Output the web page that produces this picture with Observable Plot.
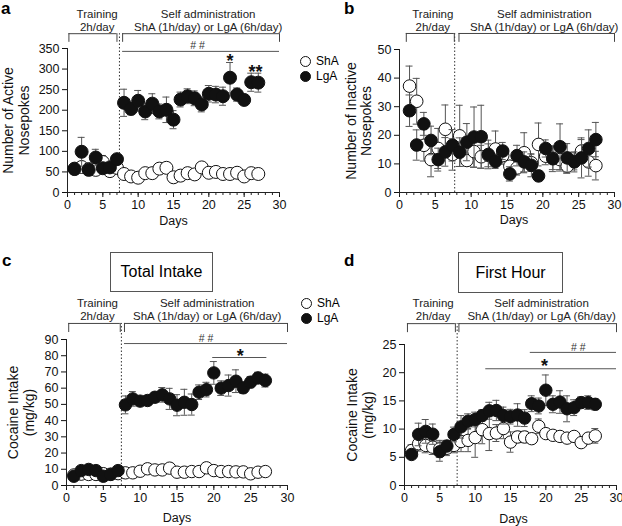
<!DOCTYPE html>
<html><head><meta charset="utf-8">
<script src="https://cdn.jsdelivr.net/npm/d3@7"></script>
<script src="https://cdn.jsdelivr.net/npm/@observablehq/plot@0.6"></script>
<style>
body{margin:0;background:#fff;}
#fig{position:relative;width:622px;height:526px;font-family:"Liberation Sans",Arial,sans-serif;color:#000;overflow:hidden;background:#fff}
.panel{position:absolute}
.letter{position:absolute;font-weight:bold;font-size:17px;line-height:1}
.box{position:absolute;border:1px solid #555;font-size:16px;display:flex;align-items:center;justify-content:center;box-sizing:border-box;background:#fff}
.leg{position:absolute;font-size:12px;line-height:1;display:flex;align-items:center}
.leg span.c{display:inline-block;width:11px;height:11px;border-radius:50%;border:1px solid #111;box-sizing:border-box;margin-right:5px}
</style></head><body><div id="fig"></div><script>
// ---------------- data ----------------
const days = [1,2,3,4,5,6,7,8,9,10,11,12,13,14,15,16,17,18,19,20,21,22,23,24,25,26,27];
const xTicks = [0,5,10,15,20,25,30];
const minorTicks = [0,1,2,3,4,5,6,7,8,9,10,11,12,13,14,15,16,17,18,19,20,21,22,23,24,25,26,27,28,29,30];
const groups = ["ShA","LgA"];
const trainingLabel = "Training\n2h/day";
const selfLabel = "Self administration\nShA (1h/day) or LgA (6h/day)";
const panelTitles = ["Total Intake","First Hour"];
const panelLetters = ["a","b","c","d"];
const yLabels = ["Number of Active\nNosepokes","Number of Inactive\nNosepokes","Cocaine Intake\n(mg/kg)","Cocaine Intake\n(mg/kg)"];
const xLabel = "Days";
const yTicksA = [0,50,100,150,200,250,300,350];
const yTicksB = [0,10,20,30,40,50];
const yTicksC = [0,10,20,30,40,50,60,70,80,90];
const yTicksD = [0,5,10,15,20,25];

// a: active nosepokes
const activeShA    = [58,62,57,55,74,52,60,45,39,36,47,47,58,60,37,41,47,44,61,48,50,45,45,48,39,47,45];
const activeShAErr = [5,8,5,6,16,8,5,4,3,3,4,4,8,6,3,3,3,3,6,3,3,3,3,3,3,3,3];
const activeLgA    = [57,99,55,85,59,61,81,218,203,223,197,216,197,201,177,226,234,229,214,240,238,234,279,238,225,268,267];
const activeLgAErr = [8,35,8,20,10,10,8,33,14,25,20,24,18,31,22,18,18,18,18,20,20,22,37,16,8,22,23];
// b: inactive nosepokes
const inactiveShA    = [37.2,31.9,16.5,11.5,15.4,22.1,13.3,19.8,11.2,14.3,12.5,13.0,15.2,12.9,9.2,8.6,13.9,10.4,16.8,12.7,12.0,11.5,9.2,10.9,14.5,10.7,9.4];
const inactiveShAErr = [7,8,5.5,6,7,8.5,5.5,10.7,2,5.5,4,4,6.3,3,2,2.5,7,3,7.5,3,4,4,2.5,3,4,5,5];
const inactiveLgA    = [28.6,16.6,24.0,18.2,11.5,14.2,16.5,14.1,17.6,19.4,19.5,13.3,10.9,14.5,6.5,12.9,10.7,9.5,5.8,15.4,11.8,16.0,12.1,10.7,12.1,15.4,18.5];
const inactiveLgAErr = [5.5,5.3,4,5,4,5,5.5,5,6.5,10.5,11,5,2.5,3,2.5,3.6,3.5,4,0.6,3,4.5,8,5,3.5,7,6.5,6];
// c: total intake
const totalShA    = [6.5,7,6.8,6.8,7.3,7,7.3,7.8,7.8,8.8,10.3,9.6,9.6,10.7,8.2,8.2,8.6,8.6,10.9,9.2,8.6,8.6,8.4,8.4,7.2,8.2,8.6];
const totalShAErr = [1,1,1,1,1,1,1,1,1,1,1,1,1,1,1,1,1,1,1,1,1,1,1,1,1,1,1];
const totalLgA    = [5.7,9.2,9.9,9.2,5.7,6.8,9.2,49.7,53.4,52.0,52.4,54.4,55.9,53.4,49.5,51.3,49.9,57.5,59.1,69.4,60.0,61.6,64.3,60.2,63.7,66.3,64.7];
const totalLgAErr = [1,1.5,1.5,1.5,1,1,1.5,5.5,4.5,3,3,3,4.5,6.5,6.5,8,6.5,4.5,4.5,7,4.5,6.5,7,3.5,3.5,3.5,4];
// d: first hour
const firstShA    = [6.2,7.4,7.1,6.8,6.5,6.6,7.1,7.8,8.0,8.5,9.9,9.2,9.3,10.1,7.7,8.6,8.6,8.3,10.5,9.2,8.9,8.7,8.4,8.7,7.6,8.4,8.8];
const firstShAErr = [1,1.3,1.3,1.3,1.5,1.3,1.3,1.8,2,3.5,2.5,3,1.5,1.8,1.8,1,1,0.8,1.3,0.8,0.5,0.5,0.5,0.6,0.8,0.8,1.3];
const firstLgA    = [5.5,9.05,9.6,9.1,6.0,7.0,9.05,10.4,11.4,11.7,12.4,13.25,13.3,12.4,12.2,12.5,11.95,14.5,14.1,16.9,14.4,14.8,13.6,13.8,14.7,14.7,14.4];
const firstLgAErr = [0.7,2,2.1,1.8,1.7,1,1.3,2,1.3,1.3,1,1.5,1.8,1.5,1.3,2,1.5,1.4,1.4,2.7,1.5,2,2.3,1.4,1,1.2,1];
// day offset at which the inactive-nosepoke points are drawn
const inactiveDayOffset = 0.4;

// ---------------- drawing ----------------
const FONT = '"Liberation Sans", Arial, sans-serif';
const ERR = "#555";

function makePanel(cfg) {
  const rows = days.map((d, i) => ({
    day: d + cfg.xOffset, shA: cfg.shA[i], shAErr: cfg.shAErr[i], lgA: cfg.lgA[i], lgAErr: cfg.lgAErr[i]
  }));
  const errMarks = (v, e) => [
    Plot.ruleX(rows, {x: "day", y1: d => d[v] - d[e], y2: d => d[v] + d[e], stroke: ERR, strokeWidth: 1}),
    Plot.ruleY(rows, {y: d => d[v] + d[e], x1: "day", x2: "day", insetLeft: -3.5, insetRight: -3.5, stroke: ERR}),
    Plot.ruleY(rows, {y: d => d[v] - d[e], x1: "day", x2: "day", insetLeft: -3.5, insetRight: -3.5, stroke: ERR})
  ];
  const ends = cfg.brackets.flatMap(b => [b[0], b[1]]);
  const bracketRows = cfg.brackets.map(b => ({x1: b[0], x2: b[1]}));
  const marks = [
    Plot.ruleY([0], {x1: 0, x2: 30, stroke: "#222"}),
    Plot.ruleX([0], {y1: 0, y2: cfg.yTicks[cfg.yTicks.length - 1], stroke: "#222"}),
    Plot.ruleX(minorTicks, {x: d => d, y1: 0, y2: 0, insetBottom: -3, stroke: "#222"}),
    Plot.ruleX([cfg.split], {y1: 0, y2: cfg.bTop, stroke: "#333", strokeDasharray: "1.5,2"}),
    Plot.ruleY(bracketRows, {x1: "x1", x2: "x2", y: cfg.bTop, stroke: "#444"}),
    Plot.ruleX(ends, {x: d => d, y1: cfg.bBottom, y2: cfg.bTop, stroke: "#444"}),
    Plot.text([trainingLabel, selfLabel], {x: (d, i) => cfg.textX[i], y: cfg.textY, text: d => d,
      fontSize: 11.5, lineHeight: 1.13, lineAnchor: "middle", fill: "#222"}),
    Plot.ruleY(cfg.sigLines, {x1: "x1", x2: "x2", y: "y", stroke: "#555"}),
    Plot.text(cfg.hashes, {x: "x", y: "y", text: "t", fontSize: 10.5, fill: "#333"}),
    Plot.text(cfg.stars, {x: "x", y: "y", text: "t", fontSize: 18, fontWeight: "bold"}),
    ...errMarks("shA", "shAErr"),
    Plot.dot(rows, {x: "day", y: "shA", r: cfg.r, fill: "white", stroke: "#111", strokeWidth: 1}),
    ...errMarks("lgA", "lgAErr"),
    Plot.dot(rows, {x: "day", y: "lgA", r: cfg.r, fill: "#111", stroke: "#111", strokeWidth: 1}),
    Plot.text([cfg.yLabel], {frameAnchor: "left", dx: cfg.yLabelDx, rotate: -90, text: d => d,
      fontSize: 14, lineHeight: 1.1, textAnchor: "middle", lineAnchor: "middle"}),
    Plot.text([xLabel], {frameAnchor: "bottom", dy: cfg.daysDy, dx: cfg.daysDx, text: d => d,
      fontSize: 12.5, lineAnchor: "middle"})
  ];
  const plot = Plot.plot({
    width: cfg.width, height: cfg.height,
    marginTop: cfg.m[0], marginRight: cfg.m[1], marginBottom: cfg.m[2], marginLeft: cfg.m[3],
    style: {background: "transparent", fontFamily: FONT, fontSize: "12.5px", color: "#111", overflow: "visible"},
    x: {domain: [0, 30], ticks: xTicks, tickSize: 5, tickPadding: 3, label: null},
    y: {domain: [0, cfg.yTicks[cfg.yTicks.length - 1]], ticks: cfg.yTicks, tickSize: 5, tickPadding: 3, label: null},
    marks
  });
  plot.classList.add("panel");
  plot.style.left = cfg.left + "px";
  plot.style.top = cfg.top + "px";
  plot.style.position = "absolute";
  return plot;
}

const fig = document.getElementById("fig");

const cfgs = [
  {left: 0, top: 0, width: 311, height: 240, m: [48, 32, 48, 67], yTicks: yTicksA,
   shA: activeShA, shAErr: activeShAErr, lgA: activeLgA, lgAErr: activeLgAErr, xOffset: 0, r: 6.5,
   yLabel: yLabels[0], yLabelDx: -51.5, daysDy: 28, daysDx: 0,
   split: 7.35, bTop: 386, bBottom: 365, textY: 419, textX: [4.2, 19.9], brackets: [[0.2, 7.0], [7.8, 30]],
   sigLines: [{x1: 7.8, x2: 30, y: 343}], hashes: [{x: 18.4, y: 356, t: "# #"}],
   stars: [{x: 23, y: 318, t: "*"}, {x: 26.6, y: 292, t: "**"}]},
  {left: 311, top: 0, width: 311, height: 240, m: [49, 8, 48, 88], yTicks: yTicksB,
   shA: inactiveShA, shAErr: inactiveShAErr, lgA: inactiveLgA, lgAErr: inactiveLgAErr, xOffset: inactiveDayOffset, r: 6.3,
   yLabel: yLabels[1], yLabelDx: -41, daysDy: 27, daysDx: 7,
   split: 7.7, bTop: 55.6, bBottom: 52.5, textY: 60.1, textX: [4.65, 20.2], brackets: [[0.95, 7.65], [8.3, 30]],
   sigLines: [], hashes: [], stars: []},
  {left: 0, top: 245, width: 311, height: 281, m: [94, 24, 41, 66], yTicks: yTicksC,
   shA: totalShA, shAErr: totalShAErr, lgA: totalLgA, lgAErr: totalLgAErr, xOffset: 0, r: 6.2,
   yLabel: yLabels[2], yLabelDx: -45.5, daysDy: 32, daysDx: 0,
   split: 7.45, bTop: 99.9, bBottom: 94.3, textY: 108.5, textX: [4.2, 19.1], brackets: [[0.3, 7.3], [7.87, 30]],
   sigLines: [{x1: 7.87, x2: 30, y: 87.5}, {x1: 19.85, x2: 27.2, y: 78.9}],
   hashes: [{x: 18.95, y: 90.6, t: "# #"}], stars: [{x: 23.6, y: 79.6, t: "*"}]},
  {left: 311, top: 245, width: 311, height: 281, m: [99, 6, 41, 93], yTicks: yTicksD,
   shA: firstShA, shAErr: firstShAErr, lgA: firstLgA, lgAErr: firstLgAErr, xOffset: 0, r: 6.2,
   yLabel: yLabels[3], yLabelDx: -44.5, daysDy: 33, daysDx: 3,
   split: 7.45, bTop: 28.7, bBottom: 27.1, textY: 31.2, textX: [4.05, 19.4], brackets: [[0.42, 7.2], [7.7, 30]],
   sigLines: [{x1: 17.8, x2: 30, y: 23.6}, {x1: 11.5, x2: 30, y: 20.7}],
   hashes: [{x: 24.6, y: 24.5, t: "# #"}], stars: [{x: 19.8, y: 21.2, t: "*"}]}
];

cfgs.forEach(c => fig.appendChild(makePanel(c)));

[[1, 0], [344, 0], [2, 252], [344, 252]].forEach((p, i) => {
  const el = document.createElement("div");
  el.className = "letter"; el.textContent = panelLetters[i];
  el.style.left = p[0] + "px"; el.style.top = p[1] + "px";
  fig.appendChild(el);
});
[[110, 252, 103, 40], [458, 252, 105, 41]].forEach((b, i) => {
  const el = document.createElement("div");
  el.className = "box"; el.textContent = panelTitles[i];
  el.style.left = b[0] + "px"; el.style.top = b[1] + "px";
  el.style.width = b[2] + "px"; el.style.height = b[3] + "px";
  fig.appendChild(el);
});
[[300, 55], [301, 297]].forEach(p => {
  groups.forEach((g, i) => {
    const el = document.createElement("div");
    el.className = "leg";
    el.style.left = p[0] + "px"; el.style.top = (p[1] + i * 15) + "px";
    const c = document.createElement("span");
    c.className = "c"; c.style.background = i === 0 ? "#fff" : "#111";
    el.appendChild(c);
    el.appendChild(document.createTextNode(g));
    fig.appendChild(el);
  });
});
</script></body></html>
